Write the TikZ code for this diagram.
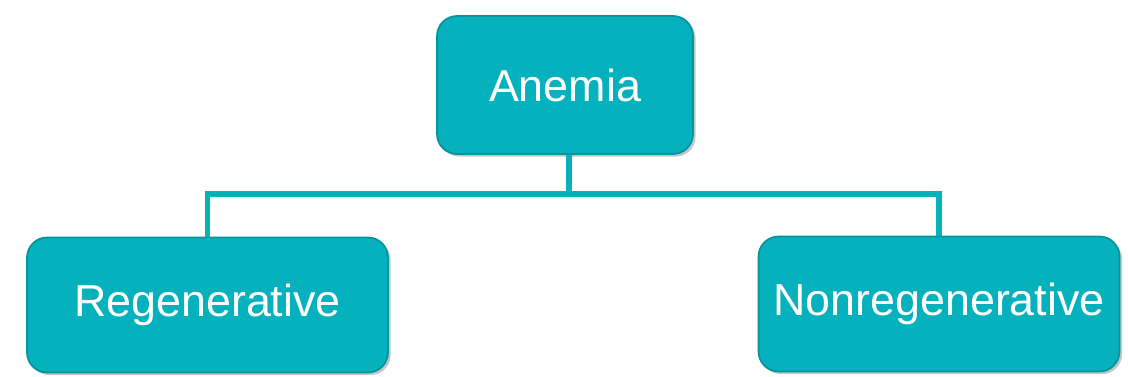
\documentclass[tikz,border=0pt]{standalone}
\usepackage{fontspec}
\setmainfont{Liberation Sans}
\usepackage{xcolor}
\usepackage{tikz}
\usetikzlibrary{shadows}
\definecolor{teal1}{HTML}{06B1BE}
\definecolor{teal2}{HTML}{04949F}

\begin{document}
\begin{tikzpicture}[x=0.02cm, y=-0.02cm,
  box/.style={draw=teal2, line width=1pt, fill=teal1, rounded corners=0.4cm,
    text=white, font=\fontsize{25.5}{30}\selectfont, inner sep=0pt,
    drop shadow={opacity=0.45, shadow xshift=1.5pt, shadow yshift=-1.5pt}},
  link/.style={draw=teal1, line width=3pt}]
\useasboundingbox (0,0) rectangle (1128,376);

% the three boxes
\node[box, minimum width=5.12cm, minimum height=2.76cm] (anemia) at (565,85) {Anemia};
\node[box, minimum width=7.22cm, minimum height=2.7cm] (regen) at (207.5,305) {Regenerative};
\node[box, minimum width=7.22cm, minimum height=2.7cm] (nonregen) at (939,304) {Nonregenerative};

% level of the horizontal bar
\coordinate (bus) at (569,194);

\draw[link] (anemia.south -| bus) -- (bus) -| (regen.north);
\draw[link] (bus) -| (nonregen.north);

\end{tikzpicture}
\end{document}
